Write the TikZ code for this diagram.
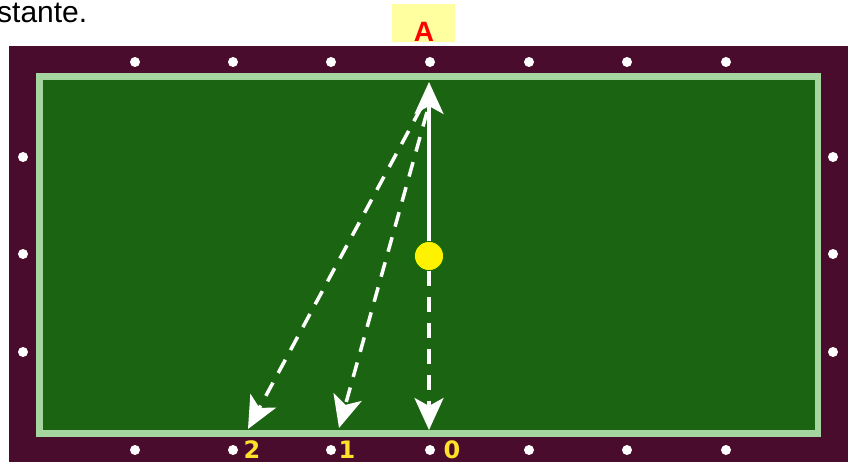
\documentclass[tikz,border=0pt]{standalone}
\usepackage{fontspec}
\setmainfont{Liberation Sans}
\newfontfamily\digitfont{DejaVu Sans}
\usetikzlibrary{arrows.meta}
\definecolor{feltpurple}{HTML}{4A0C2C}
\definecolor{railgreen}{HTML}{A6D6A0}
\definecolor{clothgreen}{HTML}{1B6512}
\definecolor{lblyellow}{HTML}{FFE02A}
\definecolor{boxyellow}{HTML}{FFFFA0}
\definecolor{ballyellow}{HTML}{FFF200}
\tikzset{
  diamondpt/.style={circle,fill=white,inner sep=0pt,minimum size=10pt},
  numlabel/.style={text=lblyellow,font=\digitfont\bfseries\fontsize{24}{24}\selectfont,inner sep=0pt,anchor=center},
  shotline/.style={white,line width=3.5pt},
  dashshot/.style={shotline,dash pattern=on 15pt off 11pt},
  bigtip/.style={-{Stealth[length=32pt,width=29pt,inset=8pt]}},
}
\begin{document}
\begin{tikzpicture}[x=1pt,y=-1pt]
\useasboundingbox (0,0) rectangle (853,462);
\fill[white] (0,0) rectangle (853,462);
% text fragment
\node[anchor=base west,inner sep=0pt,font=\fontsize{30}{30}\selectfont] (txt) at (-3,23) {stante.};
% A box
\fill[boxyellow] (392,4) rectangle (455,42);
\node[text=red,font=\bfseries\fontsize{28}{28}\selectfont,inner sep=0pt,anchor=base] (lblA) at (424,42) {A};
% table
\fill[feltpurple] (9,46) rectangle (848,462);
\fill[railgreen] (36,73) rectangle (821,437);
\fill[clothgreen] (43,80) rectangle (815,430);
% diamonds
\foreach \x [count=\i] in {135,233,331,430,529,627,726}{
  \node[diamondpt] (t\i) at (\x,62) {};
  \node[diamondpt] (b\i) at (\x,450) {};
}
\foreach \y [count=\i] in {157,254,352}{
  \node[diamondpt] (l\i) at (23,\y) {};
  \node[diamondpt] (r\i) at (833,\y) {};
}
% labels
\node[numlabel] (n2) at (252,450) {2};
\node[numlabel] (n1) at (347,450) {1};
\node[numlabel] (n0) at (452,450) {0};
% ball and paths
\coordinate (topA) at (429,82);
\coordinate (end0) at (429,430);
\coordinate (end1) at (339,428);
\coordinate (end2) at (248,429);
\node[circle,fill=ballyellow,draw=black!60!green,line width=0.6pt,minimum size=29pt,inner sep=0pt] (ball) at (429,256) {};
\draw[shotline,bigtip] (ball.north) -- (topA);
\draw[dashshot,bigtip] (ball.south) -- (end0);
\draw[dashshot,bigtip] (427,112) -- (end1);
\draw[dashshot,bigtip] (421,108) -- (end2);
\end{tikzpicture}
\end{document}
